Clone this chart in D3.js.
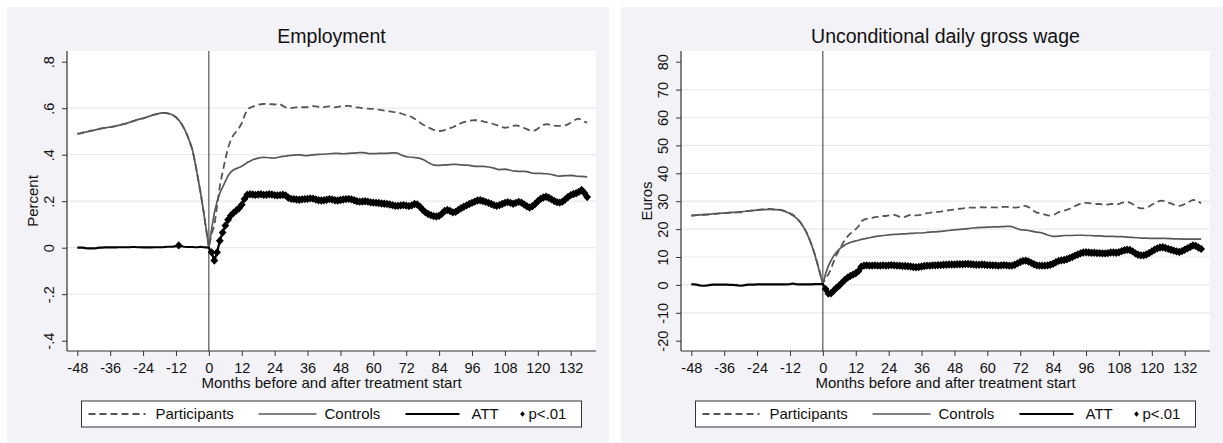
<!DOCTYPE html>
<html>
<head>
<meta charset="utf-8">
<script src="https://cdn.jsdelivr.net/npm/d3@7"></script>
<style>
  body { margin: 0; background: #fff; }
  svg text { font-family: "Liberation Sans", Arial, sans-serif; fill: #111; }
</style>
</head>
<body>
<div id="chart"></div>
<script>
// months relative to treatment start
var months = d3.range(-48, 139);

// Employment (share employed), one value per month -48 .. 138
var empParticipants = [
  .490,.492,.495,.497,.500,.503,.505,.508,.511,.513,.515,.517,
  .519,.521,.523,.526,.529,.532,.535,.539,.543,.547,.551,.554,
  .556,.560,.564,.568,.572,.575,.578,.580,.580,.578,.575,.570,
  .561,.549,.533,.512,.487,.457,.421,.365,.300,.235,.160,.080,
  .000,.060,.095,.180,.265,.325,.380,.430,.463,.485,.500,.515,
  .535,.568,.594,.602,.607,.612,.615,.617,.618,.619,.618,.617,
  .616,.618,.617,.610,.603,.600,.600,.602,.604,.605,.604,.604,
  .605,.607,.609,.608,.606,.604,.605,.607,.608,.606,.604,.606,
  .608,.609,.610,.610,.608,.606,.604,.602,.600,.599,.598,.597,
  .597,.596,.594,.592,.590,.588,.586,.584,.583,.583,.578,.574,
  .570,.567,.562,.555,.547,.538,.530,.524,.518,.512,.507,.503,
  .502,.503,.506,.510,.514,.518,.524,.530,.536,.540,.543,.546,
  .548,.549,.548,.546,.543,.540,.538,.535,.531,.527,.523,.519,
  .516,.518,.521,.524,.526,.524,.520,.515,.510,.505,.502,.505,
  .512,.520,.527,.531,.530,.527,.525,.524,.524,.525,.526,.530,
  .538,.546,.552,.555,.550,.542,.538
];
var empControls = [
  .490,.492,.495,.497,.500,.503,.505,.508,.511,.513,.515,.517,
  .519,.521,.523,.526,.529,.532,.535,.539,.543,.547,.551,.554,
  .556,.560,.564,.568,.572,.575,.578,.580,.580,.578,.575,.570,
  .561,.549,.533,.512,.487,.457,.421,.365,.300,.235,.160,.080,
  .000,.080,.150,.200,.235,.260,.285,.310,.325,.335,.340,.345,
  .350,.358,.366,.372,.378,.382,.385,.388,.389,.388,.387,.385,
  .386,.388,.391,.393,.394,.396,.397,.398,.399,.399,.398,.396,
  .396,.398,.399,.400,.401,.402,.402,.403,.404,.405,.406,.406,
  .405,.404,.405,.406,.407,.407,.408,.409,.409,.408,.406,.405,
  .405,.405,.406,.406,.406,.406,.407,.408,.408,.406,.400,.395,
  .392,.390,.389,.388,.386,.384,.380,.374,.366,.360,.356,.354,
  .354,.355,.356,.356,.357,.358,.358,.357,.356,.355,.355,.354,
  .352,.350,.350,.350,.350,.349,.347,.345,.342,.338,.336,.337,
  .338,.336,.333,.330,.329,.328,.328,.328,.327,.324,.321,.320,
  .320,.320,.319,.318,.317,.315,.312,.309,.308,.309,.310,.310,
  .311,.310,.308,.307,.307,.306,.305
];
var empATT = [
  .000,.000,.000,-.002,-.003,-.003,-.003,-.002,.000,.000,.001,.001,
  .001,.001,.001,.002,.002,.002,.002,.002,.003,.003,.002,.002,
  .001,.001,.001,.001,.002,.002,.002,.002,.003,.004,.004,.005,
  .007,.010,.006,.004,.003,.003,.003,.002,.002,.004,.002,.001,
  .000,-.020,-.055,-.020,.030,.065,.095,.120,.138,.150,.160,.170,
  .185,.210,.228,.230,.229,.227,.229,.230,.227,.228,.230,.229,
  .226,.225,.226,.228,.225,.215,.210,.209,.207,.206,.208,.209,
  .210,.212,.211,.207,.204,.203,.204,.206,.209,.207,.204,.203,
  .205,.207,.209,.210,.208,.204,.200,.198,.199,.200,.198,.195,
  .194,.193,.192,.190,.189,.188,.186,.183,.180,.180,.182,.183,
  .181,.179,.182,.188,.186,.176,.163,.152,.145,.140,.136,.134,
  .137,.146,.158,.162,.158,.152,.154,.162,.170,.176,.182,.188,
  .193,.198,.203,.204,.201,.197,.193,.188,.183,.180,.183,.188,
  .193,.196,.193,.189,.193,.197,.194,.186,.178,.173,.178,.188,
  .200,.210,.216,.219,.215,.208,.201,.196,.194,.198,.207,.218,
  .226,.231,.234,.240,.248,.235,.218
];
// month spans where the ATT is significant at 1%
var empSignificant = [[-11, -11], [1, 138]];

// Unconditional daily gross wage (euros), month -48 .. 138
var wageParticipants = [
  24.8,24.9,25.0,25.0,25.0,25.1,25.2,25.4,25.5,25.5,25.6,25.7,
  25.7,25.8,25.9,26.0,26.0,26.0,26.0,26.2,26.4,26.5,26.6,26.7,
  26.9,27.0,27.1,27.1,27.2,27.2,27.1,27.1,27.0,26.8,26.5,26.1,
  25.7,25.2,24.4,23.4,22.2,20.7,18.9,16.7,14.1,11.2,7.8,4.1,
  0.6,2.5,3.7,5.8,8.5,10.8,12.6,14.4,16.1,17.4,18.4,19.2,
  20.0,21.0,22.8,23.4,23.7,23.8,24.0,24.3,24.4,24.5,24.7,24.7,
  24.9,25.1,25.1,24.8,24.4,24.2,24.4,24.8,25.1,25.0,24.9,25.0,
  25.2,25.5,25.7,25.8,26.0,26.0,26.2,26.3,26.5,26.6,26.8,26.9,
  27.0,27.2,27.3,27.4,27.6,27.7,27.7,27.7,27.7,27.7,27.9,27.8,
  27.8,27.8,27.8,27.8,27.7,27.9,28.0,28.0,27.9,27.8,27.7,27.8,
  28.0,28.3,28.3,27.9,27.2,26.5,25.9,25.7,25.5,25.2,24.9,24.8,
  25.0,25.5,26.1,26.4,26.6,26.9,27.3,27.7,28.3,28.7,29.1,29.4,
  29.4,29.3,29.2,29.1,29.0,29.0,28.8,28.7,28.8,29.0,29.0,28.8,
  29.0,29.4,29.6,29.7,29.5,29.0,28.2,27.7,27.4,27.4,27.7,28.1,
  28.7,29.3,29.8,30.1,30.2,29.9,29.5,29.2,28.8,28.5,28.3,28.5,
  29.0,29.5,30.0,30.5,30.4,29.8,29.3
];
var wageControls = [
  24.8,24.9,25.0,25.1,25.2,25.3,25.3,25.4,25.5,25.5,25.6,25.7,
  25.7,25.8,25.9,26.0,26.0,26.1,26.2,26.3,26.4,26.5,26.6,26.7,
  26.8,26.9,27.0,27.0,27.1,27.1,27.0,27.0,26.9,26.7,26.4,26.0,
  25.5,24.9,24.2,23.3,22.1,20.6,18.8,16.6,14.0,11.0,7.6,3.9,
  0.3,4.0,6.8,8.8,10.5,11.8,12.8,13.6,14.3,14.8,15.2,15.5,
  15.8,16.0,16.3,16.5,16.7,16.9,17.1,17.3,17.5,17.6,17.7,17.8,
  17.9,18.0,18.1,18.1,18.2,18.3,18.3,18.4,18.5,18.5,18.6,18.6,
  18.6,18.7,18.8,18.9,19.0,19.0,19.1,19.2,19.3,19.4,19.5,19.6,
  19.7,19.8,19.9,20.0,20.1,20.2,20.3,20.4,20.5,20.5,20.6,20.6,
  20.7,20.7,20.8,20.8,20.8,20.9,20.9,21.0,21.0,20.9,20.5,20.1,
  19.8,19.7,19.6,19.5,19.3,19.1,18.9,18.8,18.6,18.3,17.9,17.6,
  17.4,17.4,17.5,17.6,17.7,17.7,17.7,17.7,17.8,17.8,17.8,17.8,
  17.7,17.7,17.7,17.6,17.6,17.6,17.5,17.4,17.4,17.4,17.4,17.3,
  17.3,17.3,17.2,17.1,17.0,17.0,16.9,16.9,16.8,16.8,16.8,16.7,
  16.7,16.7,16.7,16.7,16.7,16.7,16.6,16.6,16.5,16.5,16.5,16.4,
  16.4,16.4,16.4,16.4,16.4,16.4,16.4
];
var wageATT = [
  0.2,0.2,0.1,-0.2,-0.3,-0.3,-0.2,0.0,0.1,0.1,0.1,0.1,
  0.1,0.1,0.0,0.0,-0.1,-0.2,-0.3,-0.2,0.0,0.1,0.1,0.1,
  0.2,0.2,0.2,0.2,0.2,0.2,0.2,0.2,0.2,0.2,0.2,0.2,
  0.3,0.5,0.3,0.2,0.2,0.2,0.2,0.2,0.2,0.3,0.3,0.3,
  0.3,-1.5,-3.1,-3.0,-2.0,-1.0,-0.2,0.8,1.8,2.6,3.2,3.7,
  4.2,5.0,6.5,6.9,7.0,6.9,6.9,7.0,6.9,6.9,7.0,6.9,
  7.0,7.1,7.0,6.9,6.9,6.8,6.8,6.7,6.6,6.4,6.3,6.4,
  6.6,6.8,6.9,6.9,7.0,7.0,7.1,7.1,7.2,7.2,7.3,7.3,
  7.3,7.4,7.4,7.4,7.5,7.5,7.4,7.3,7.2,7.2,7.3,7.2,
  7.1,7.1,7.0,7.0,6.9,7.0,7.1,7.0,6.9,6.9,7.2,7.7,
  8.2,8.6,8.7,8.4,7.9,7.4,7.0,6.9,6.9,6.9,7.0,7.2,
  7.6,8.1,8.6,8.8,8.9,9.2,9.6,10.0,10.5,10.9,11.3,11.6,
  11.7,11.6,11.5,11.5,11.4,11.4,11.3,11.3,11.4,11.6,11.6,11.5,
  11.7,12.1,12.4,12.6,12.5,12.0,11.3,10.8,10.6,10.6,10.9,11.4,
  12.0,12.6,13.1,13.4,13.5,13.2,12.9,12.6,12.3,12.0,11.8,12.1,
  12.6,13.1,13.6,14.1,14.0,13.4,12.9
];
var wageSignificant = [[1, 138]];

// axis ticks and labels
var monthTicks = [-48, -36, -24, -12, 0, 12, 24, 36, 48, 60, 72, 84, 96, 108, 120, 132];
var empTicks = [-0.4, -0.2, 0, 0.2, 0.4, 0.6, 0.8];
var empTickLabels = ["-.4", "-.2", "0", ".2", ".4", ".6", ".8"];
var wageTicks = [-20, -10, 0, 10, 20, 30, 40, 50, 60, 70, 80];
var wageTickLabels = ["-20", "-10", "0", "10", "20", "30", "40", "50", "60", "70", "80"];
var legendLabels = ["Participants", "Controls", "ATT", "p<.01"];

var svgWidth = 1223;
var svgHeight = 443;

var svg = d3.select("#chart")
  .append("svg")
  .attr("width", svgWidth)
  .attr("height", svgHeight);

var bigDiamond = "M0,-4.2L3.9,0L0,4.2L-3.9,0Z";
var smallDiamond = "M0,-2.7L2.3,0L0,2.7L-2.3,0Z";

function drawPanel(p) {
  var g = svg.append("g");
  var plotTop = 51, plotBottom = 351;
  var plotLeft = p.left, plotRight = p.left + 529;

  // grey panel and white plot region
  g.append("rect")
    .attr("x", p.left - 60).attr("y", 7)
    .attr("width", 602).attr("height", 436)
    .attr("fill", "#f3f2f6");
  g.append("rect")
    .attr("x", plotLeft).attr("y", plotTop)
    .attr("width", plotRight - plotLeft).attr("height", plotBottom - plotTop)
    .attr("fill", "#fff");

  var xScale = d3.scaleLinear()
    .domain([-48, 132])
    .range([plotLeft + 10.3, plotLeft + 503.7]);
  var yScale = d3.scaleLinear()
    .domain([p.ticks[0], p.ticks[p.ticks.length - 1]])
    .range([340.7, 61.7]);

  // horizontal grid, skipping the outermost ticks
  g.append("g").selectAll("line")
    .data(p.ticks.slice(1, -1))
    .enter()
    .append("line")
    .attr("x1", plotLeft).attr("x2", plotRight)
    .attr("y1", d => yScale(d)).attr("y2", d => yScale(d))
    .attr("stroke", "#eaeaee")
    .attr("stroke-width", 1.2);

  // treatment start
  g.append("line")
    .attr("x1", xScale(0)).attr("x2", xScale(0))
    .attr("y1", plotTop).attr("y2", plotBottom)
    .attr("stroke", "#333")
    .attr("stroke-width", 1);

  var rows = months.map((m, i) => ({
    m: m, part: p.part[i], ctrl: p.ctrl[i], att: p.att[i]
  }));

  var lineOf = key => d3.line()
    .x(d => xScale(d.m))
    .y(d => yScale(d[key]));

  g.append("path")
    .datum(rows)
    .attr("d", lineOf("part"))
    .attr("fill", "none")
    .attr("stroke", "#555")
    .attr("stroke-width", 1.8)
    .attr("stroke-dasharray", "7,4");

  g.append("path")
    .datum(rows)
    .attr("d", lineOf("ctrl"))
    .attr("fill", "none")
    .attr("stroke", "#585858")
    .attr("stroke-width", 1.7);

  g.append("path")
    .datum(rows)
    .attr("d", lineOf("att"))
    .attr("fill", "none")
    .attr("stroke", "#000")
    .attr("stroke-width", 2.2);

  var sigRows = rows.filter(d => p.sig.some(s => d.m >= s[0] && d.m <= s[1]));
  g.append("g").selectAll("path")
    .data(sigRows)
    .enter()
    .append("path")
    .attr("d", bigDiamond)
    .attr("transform", d => `translate(${xScale(d.m)},${yScale(d.att)})`)
    .attr("fill", "#000");

  // axes
  var bottomAxis = d3.axisBottom(xScale)
    .tickValues(monthTicks)
    .tickFormat(d => String(d))
    .tickSize(5)
    .tickSizeOuter(0)
    .tickPadding(7);
  var xAxisG = g.append("g")
    .attr("transform", `translate(0, ${plotBottom})`)
    .call(bottomAxis);
  xAxisG.select(".domain").remove();
  xAxisG.selectAll("line").attr("stroke", "#333");
  xAxisG.selectAll("text")
    .attr("font-size", "14.5px")
    .attr("fill", "#111");

  var leftAxis = d3.axisLeft(yScale)
    .tickValues(p.ticks)
    .tickFormat((d, i) => p.tickLabels[i])
    .tickSize(5)
    .tickSizeOuter(0);
  var yAxisG = g.append("g")
    .attr("transform", `translate(${plotLeft}, 0)`)
    .call(leftAxis);
  yAxisG.select(".domain").remove();
  yAxisG.selectAll("line").attr("stroke", "#333");
  yAxisG.selectAll("text")
    .attr("x", 0).attr("y", -13).attr("dy", 0)
    .attr("transform", "rotate(-90)")
    .attr("text-anchor", "middle")
    .attr("font-size", "14.5px")
    .attr("fill", "#111");

  g.append("line")
    .attr("x1", plotLeft).attr("x2", plotRight)
    .attr("y1", plotBottom).attr("y2", plotBottom)
    .attr("stroke", "#333").attr("stroke-width", 1.2);
  g.append("line")
    .attr("x1", plotLeft).attr("x2", plotLeft)
    .attr("y1", plotTop).attr("y2", plotBottom)
    .attr("stroke", "#333").attr("stroke-width", 1.2);

  var midX = (plotLeft + plotRight) / 2;

  // titles
  g.append("text")
    .attr("x", midX).attr("y", 43)
    .attr("text-anchor", "middle")
    .attr("font-size", "19.5px")
    .text(p.title);

  g.append("text")
    .attr("x", midX).attr("y", 388)
    .attr("text-anchor", "middle")
    .attr("font-size", "15px")
    .text("Months before and after treatment start");

  g.append("text")
    .attr("transform", `translate(${plotLeft - 29}, ${(plotTop + plotBottom) / 2}) rotate(-90)`)
    .attr("text-anchor", "middle")
    .attr("font-size", "15px")
    .text(p.yTitle);

  // legend
  var lx = midX - 250, ly = 401;
  var lg = g.append("g").attr("transform", `translate(${lx}, ${ly})`);
  lg.append("rect")
    .attr("width", 500).attr("height", 26)
    .attr("fill", "#fff")
    .attr("stroke", "#333").attr("stroke-width", 1);

  var sampleY = 13;
  lg.append("line")
    .attr("x1", 7).attr("x2", 64).attr("y1", sampleY).attr("y2", sampleY)
    .attr("stroke", "#555").attr("stroke-width", 1.8)
    .attr("stroke-dasharray", "7,4");
  lg.append("line")
    .attr("x1", 177).attr("x2", 235).attr("y1", sampleY).attr("y2", sampleY)
    .attr("stroke", "#585858").attr("stroke-width", 1.7);
  lg.append("line")
    .attr("x1", 324).attr("x2", 378).attr("y1", sampleY).attr("y2", sampleY)
    .attr("stroke", "#000").attr("stroke-width", 2.2);
  lg.append("path")
    .attr("d", smallDiamond)
    .attr("transform", `translate(441, ${sampleY})`)
    .attr("fill", "#000");

  var textX = [74, 243, 390, 447];
  lg.selectAll("text.leg")
    .data(legendLabels)
    .enter()
    .append("text")
    .attr("class", "leg")
    .attr("x", (d, i) => textX[i])
    .attr("y", 18)
    .attr("font-size", "15px")
    .text(d => d);
}

drawPanel({
  left: 67,
  title: "Employment",
  yTitle: "Percent",
  ticks: empTicks,
  tickLabels: empTickLabels,
  part: empParticipants,
  ctrl: empControls,
  att: empATT,
  sig: empSignificant
});

drawPanel({
  left: 681,
  title: "Unconditional daily gross wage",
  yTitle: "Euros",
  ticks: wageTicks,
  tickLabels: wageTickLabels,
  part: wageParticipants,
  ctrl: wageControls,
  att: wageATT,
  sig: wageSignificant
});
</script>
</body>
</html>
